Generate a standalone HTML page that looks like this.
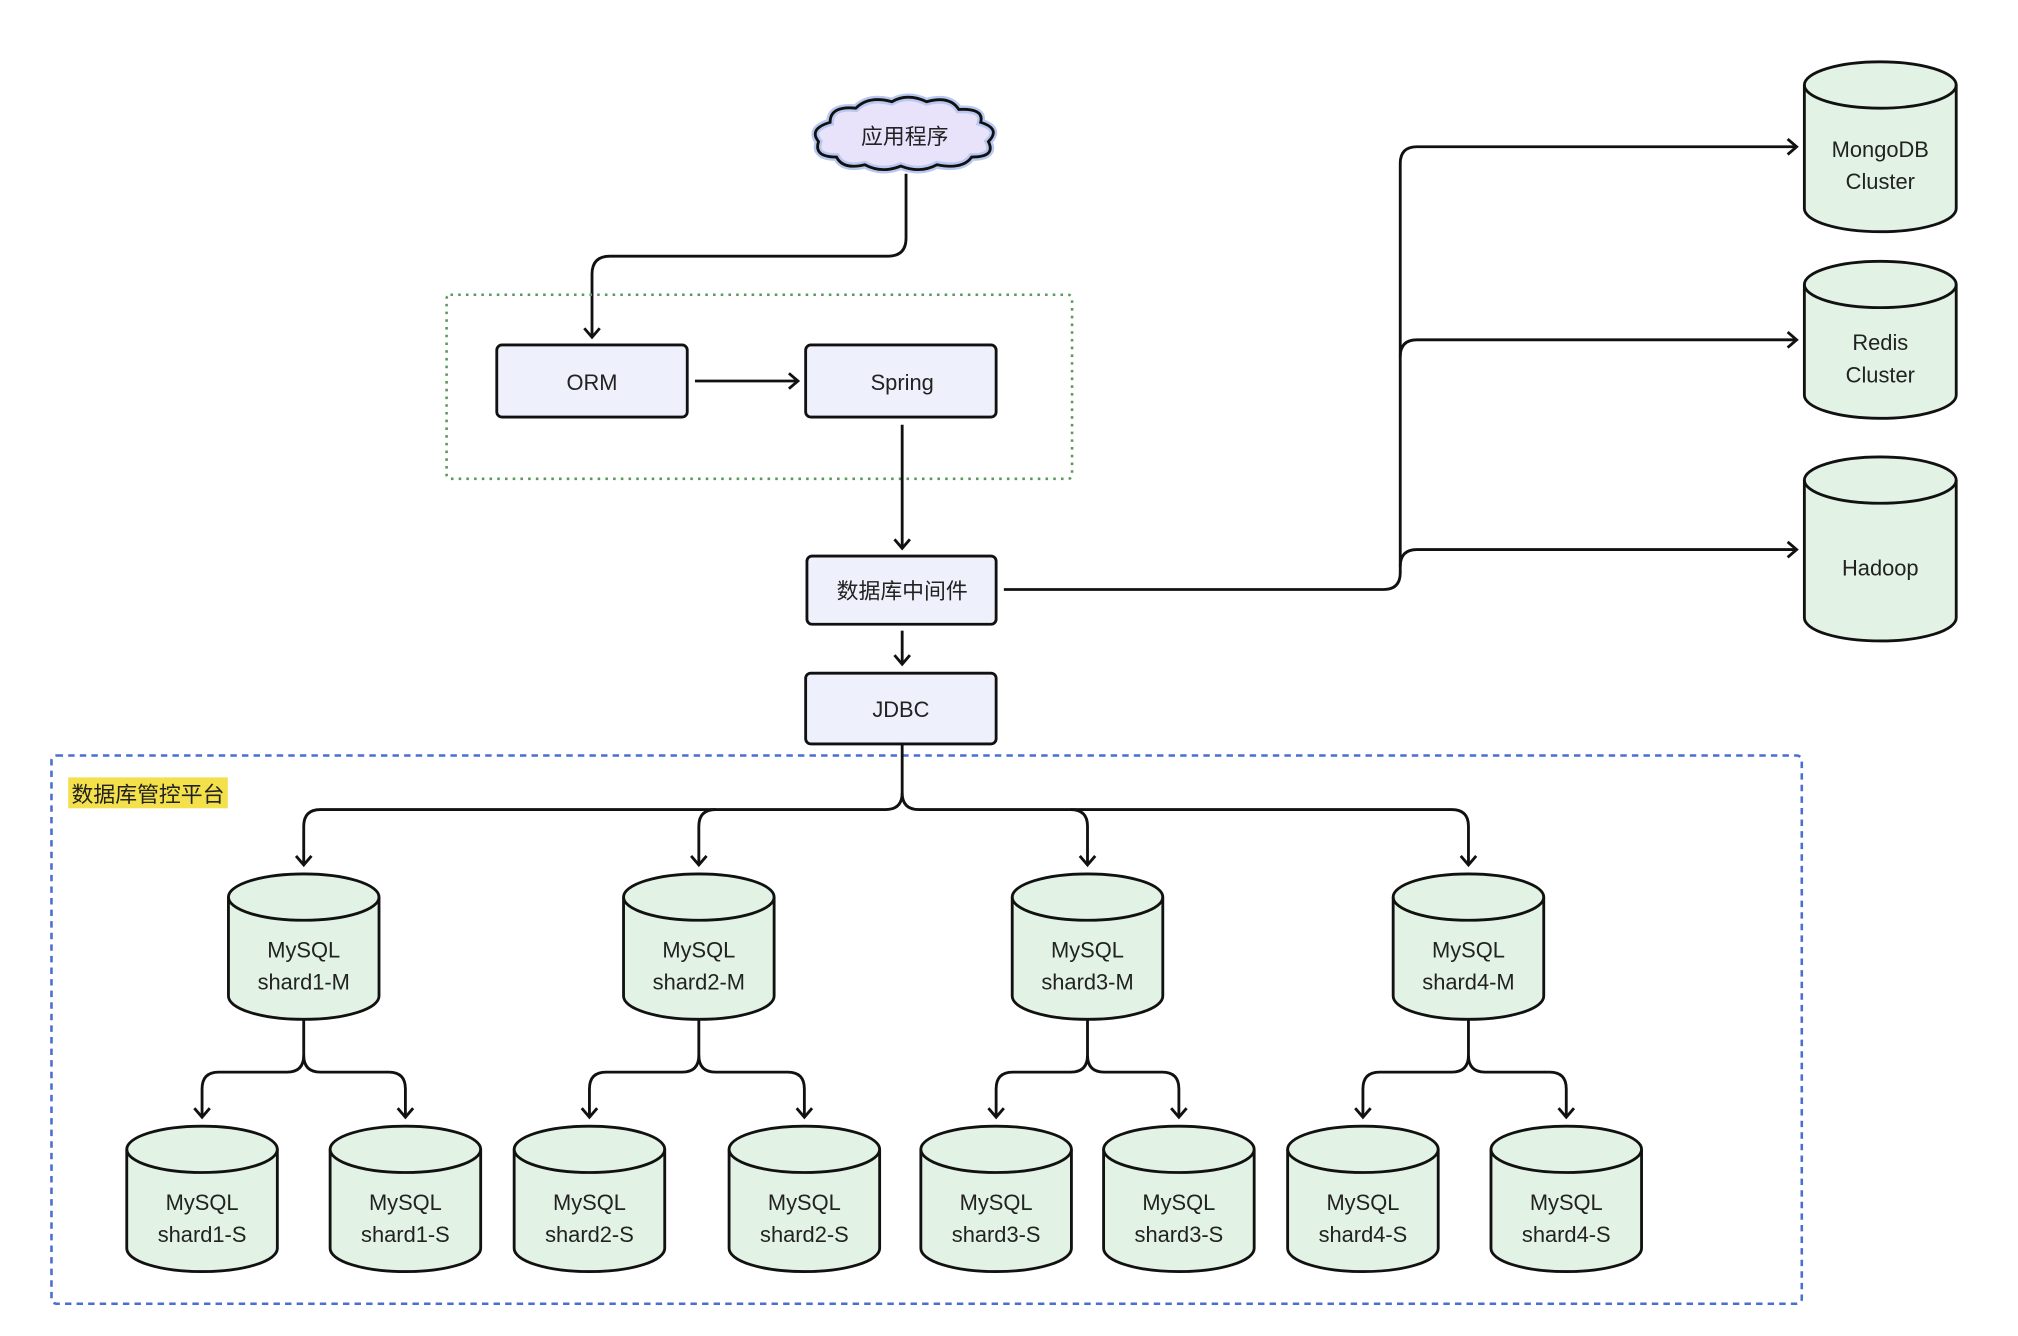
<!DOCTYPE html>
<html><head><meta charset="utf-8"><style>
html,body{margin:0;padding:0;background:#fff;}
svg{display:block;}
text{font-family:"Liberation Sans","Noto Sans CJK SC",sans-serif;fill:#222;text-anchor:middle;}
</style></head><body>
<svg width="2018" height="1336" viewBox="0 0 1568 1038" xmlns="http://www.w3.org/2000/svg">
<defs>
<marker id="a" markerWidth="14" markerHeight="14" refX="11" refY="7" orient="auto" markerUnits="userSpaceOnUse">
<path d="M4 1 L11 7 L4 13" fill="none" stroke="#111" stroke-width="2.2"/>
</marker>
</defs>
<g fill="none" stroke="#111" stroke-width="2.2">
<!-- cloud -->
<path d="M650 122 Q632 122 636 110 Q628 100 645 95 Q645 82 665 84 Q675 74 693 79 Q705 72 720 79 Q738 74 745 85 Q765 84 762 95 Q778 100 768 110 Q774 122 755 122 Q748 132 728 128 Q715 135 700 129 Q685 135 672 128 Q655 132 650 122 Z" stroke="#b8c8f0" stroke-width="6" fill="#e8e2fa"/>
<path d="M650 122 Q632 122 636 110 Q628 100 645 95 Q645 82 665 84 Q675 74 693 79 Q705 72 720 79 Q738 74 745 85 Q765 84 762 95 Q778 100 768 110 Q774 122 755 122 Q748 132 728 128 Q715 135 700 129 Q685 135 672 128 Q655 132 650 122 Z"/>
<path d="M704 135 V185 Q704 199 690 199 H474 Q460 199 460 213 V262" marker-end="url(#a)"/>
<rect x="347" y="229" width="486" height="143" rx="3" stroke="#5a9a5a" stroke-width="2" stroke-dasharray="2 4"/>
<rect x="386" y="268" width="148" height="56" rx="4" fill="#eef1fb"/>
<rect x="626" y="268" width="148" height="56" rx="4" fill="#eef1fb"/>
<path d="M540 296 H620" marker-end="url(#a)"/>
<path d="M701 330 V426" marker-end="url(#a)"/>
<rect x="627" y="432" width="147" height="53" rx="4" fill="#eef1fb"/>
<path d="M701 490 V516" marker-end="url(#a)"/>
<rect x="626" y="523" width="148" height="55" rx="4" fill="#eef1fb"/>
<path d="M780 458 H1075 Q1088 458 1088 445 V127 Q1088 114 1101 114 H1396" marker-end="url(#a)"/>
<path d="M1088 277 Q1088 264 1101 264 H1396" marker-end="url(#a)"/>
<path d="M1088 440 Q1088 427 1101 427 H1396" marker-end="url(#a)"/>
<rect x="40" y="587" width="1360" height="426" rx="4" stroke="#4a6fd0" stroke-width="2" stroke-dasharray="5 4"/>
<path d="M701 578 V616 Q701 629 688 629 H249 Q236 629 236 642 V672" marker-end="url(#a)"/>
<path d="M701 616 Q701 629 714 629 H1128 Q1141 629 1141 642 V672" marker-end="url(#a)"/>
<path d="M556 629 Q543 629 543 642 V672" marker-end="url(#a)"/>
<path d="M832 629 Q845 629 845 642 V672" marker-end="url(#a)"/>
<!-- sub branches -->
<path d="M236 792 V820 Q236 833 223 833 H170 Q157 833 157 846 V868" marker-end="url(#a)"/>
<path d="M236 820 Q236 833 249 833 H302 Q315 833 315 846 V868" marker-end="url(#a)"/>
<path d="M543 792 V820 Q543 833 530 833 H471 Q458 833 458 846 V868" marker-end="url(#a)"/>
<path d="M543 820 Q543 833 556 833 H612 Q625 833 625 846 V868" marker-end="url(#a)"/>
<path d="M845 792 V820 Q845 833 832 833 H787 Q774 833 774 846 V868" marker-end="url(#a)"/>
<path d="M845 820 Q845 833 858 833 H903 Q916 833 916 846 V868" marker-end="url(#a)"/>
<path d="M1141 792 V820 Q1141 833 1128 833 H1072 Q1059 833 1059 846 V868" marker-end="url(#a)"/>
<path d="M1141 820 Q1141 833 1154 833 H1204 Q1217 833 1217 846 V868" marker-end="url(#a)"/>
</g>
<g fill="#e2f2e4" stroke="#111" stroke-width="2.2">
<!-- right cylinders -->
<path d="M1402 66 A59 18 0 0 1 1520 66 V162 A59 18 0 0 1 1402 162 Z"/><path d="M1402 66 A59 18 0 0 0 1520 66" fill="none"/>
<path d="M1402 221 A59 18 0 0 1 1520 221 V307 A59 18 0 0 1 1402 307 Z"/><path d="M1402 221 A59 18 0 0 0 1520 221" fill="none"/>
<path d="M1402 373 A59 18 0 0 1 1520 373 V480 A59 18 0 0 1 1402 480 Z"/><path d="M1402 373 A59 18 0 0 0 1520 373" fill="none"/>
<!-- M -->
<path d="M177.5 697 A58.5 18 0 0 1 294.5 697 V774 A58.5 18 0 0 1 177.5 774 Z"/><path d="M177.5 697 A58.5 18 0 0 0 294.5 697" fill="none"/>
<path d="M484.5 697 A58.5 18 0 0 1 601.5 697 V774 A58.5 18 0 0 1 484.5 774 Z"/><path d="M484.5 697 A58.5 18 0 0 0 601.5 697" fill="none"/>
<path d="M786.5 697 A58.5 18 0 0 1 903.5 697 V774 A58.5 18 0 0 1 786.5 774 Z"/><path d="M786.5 697 A58.5 18 0 0 0 903.5 697" fill="none"/>
<path d="M1082.5 697 A58.5 18 0 0 1 1199.5 697 V774 A58.5 18 0 0 1 1082.5 774 Z"/><path d="M1082.5 697 A58.5 18 0 0 0 1199.5 697" fill="none"/>
<!-- S -->
<path d="M98.5 893 A58.5 18 0 0 1 215.5 893 V970 A58.5 18 0 0 1 98.5 970 Z"/><path d="M98.5 893 A58.5 18 0 0 0 215.5 893" fill="none"/>
<path d="M256.5 893 A58.5 18 0 0 1 373.5 893 V970 A58.5 18 0 0 1 256.5 970 Z"/><path d="M256.5 893 A58.5 18 0 0 0 373.5 893" fill="none"/>
<path d="M399.5 893 A58.5 18 0 0 1 516.5 893 V970 A58.5 18 0 0 1 399.5 970 Z"/><path d="M399.5 893 A58.5 18 0 0 0 516.5 893" fill="none"/>
<path d="M566.5 893 A58.5 18 0 0 1 683.5 893 V970 A58.5 18 0 0 1 566.5 970 Z"/><path d="M566.5 893 A58.5 18 0 0 0 683.5 893" fill="none"/>
<path d="M715.5 893 A58.5 18 0 0 1 832.5 893 V970 A58.5 18 0 0 1 715.5 970 Z"/><path d="M715.5 893 A58.5 18 0 0 0 832.5 893" fill="none"/>
<path d="M857.5 893 A58.5 18 0 0 1 974.5 893 V970 A58.5 18 0 0 1 857.5 970 Z"/><path d="M857.5 893 A58.5 18 0 0 0 974.5 893" fill="none"/>
<path d="M1000.5 893 A58.5 18 0 0 1 1117.5 893 V970 A58.5 18 0 0 1 1000.5 970 Z"/><path d="M1000.5 893 A58.5 18 0 0 0 1117.5 893" fill="none"/>
<path d="M1158.5 893 A58.5 18 0 0 1 1275.5 893 V970 A58.5 18 0 0 1 1158.5 970 Z"/><path d="M1158.5 893 A58.5 18 0 0 0 1275.5 893" fill="none"/>
</g>
<rect x="53" y="604" width="124" height="24" fill="#f3e04a"/>
<g font-size="17">
<text x="703" y="112">应用程序</text>
<text x="460" y="303">ORM</text>
<text x="701" y="303">Spring</text>
<text x="701" y="465">数据库中间件</text>
<text x="700" y="557">JDBC</text>
<text x="115" y="623">数据库管控平台</text>
<text x="1461" y="122">MongoDB</text><text x="1461" y="147">Cluster</text>
<text x="1461" y="272">Redis</text><text x="1461" y="297">Cluster</text>
<text x="1461" y="447">Hadoop</text>
<text x="236" y="744">MySQL</text><text x="236" y="769">shard1-M</text>
<text x="543" y="744">MySQL</text><text x="543" y="769">shard2-M</text>
<text x="845" y="744">MySQL</text><text x="845" y="769">shard3-M</text>
<text x="1141" y="744">MySQL</text><text x="1141" y="769">shard4-M</text>
<text x="157" y="940">MySQL</text><text x="157" y="965">shard1-S</text>
<text x="315" y="940">MySQL</text><text x="315" y="965">shard1-S</text>
<text x="458" y="940">MySQL</text><text x="458" y="965">shard2-S</text>
<text x="625" y="940">MySQL</text><text x="625" y="965">shard2-S</text>
<text x="774" y="940">MySQL</text><text x="774" y="965">shard3-S</text>
<text x="916" y="940">MySQL</text><text x="916" y="965">shard3-S</text>
<text x="1059" y="940">MySQL</text><text x="1059" y="965">shard4-S</text>
<text x="1217" y="940">MySQL</text><text x="1217" y="965">shard4-S</text>
</g>
</svg>
</body></html>
